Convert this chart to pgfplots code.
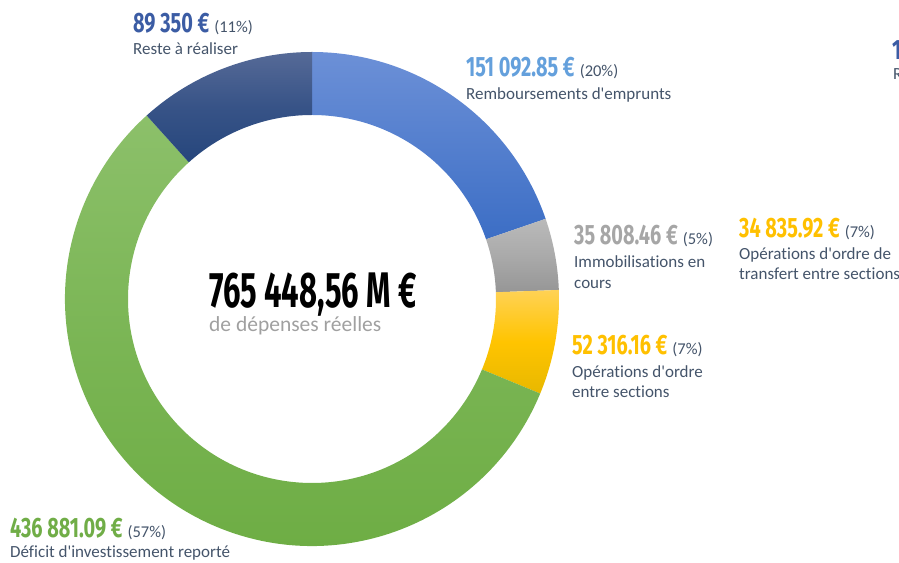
\documentclass[border=0pt]{standalone}
\usepackage{pgfplots}
\pgfplotsset{compat=1.18}
\usepackage{pgfplotstable}
\usepackage{fontspec}
\setmainfont{Carlito}[Ligatures={TeX,NoCommon}]
\newfontfamily\numfont{Fira Sans}[FakeStretch=0.71]
\newfontfamily\bignumfont{Fira Sans}[FakeStretch=0.62]

% segment colours: top / middle / bottom of each gradient
\definecolor{seg0t}{RGB}{108,144,215}
\definecolor{seg0m}{RGB}{84,127,206}
\definecolor{seg0b}{RGB}{60,110,197}
\definecolor{seg1t}{RGB}{186,186,186}
\definecolor{seg1m}{RGB}{170,170,170}
\definecolor{seg1b}{RGB}{150,150,150}
\definecolor{seg2t}{RGB}{255,210,85}
\definecolor{seg2m}{RGB}{255,196,0}
\definecolor{seg2b}{RGB}{232,184,0}
\definecolor{seg3t}{RGB}{140,192,106}
\definecolor{seg3m}{RGB}{122,181,84}
\definecolor{seg3b}{RGB}{108,172,66}
\definecolor{seg4t}{RGB}{86,106,151}
\definecolor{seg4m}{RGB}{55,83,135}
\definecolor{seg4b}{RGB}{38,70,124}

\definecolor{txtnavy}{RGB}{59,92,164}
\definecolor{txtblue}{RGB}{100,160,220}
\definecolor{txtgrey}{RGB}{166,166,166}
\definecolor{txtyellow}{RGB}{255,192,0}
\definecolor{txtgreen}{RGB}{112,173,71}
\definecolor{labelgray}{RGB}{68,84,106}
\definecolor{subgray}{RGB}{160,160,160}

\pgfplotstableread{
value
151092.85
35808.46
52316.16
436881.09
89350
}\donutdata

% cumulative angles, clockwise from 12 o'clock
\def\segtotal{0}
\pgfplotsforeachungrouped \segrow in {0,...,4}{%
  \pgfplotstablegetelem{\segrow}{value}\of{\donutdata}%
  \xdef\segtotal{\fpeval{\segtotal+\pgfplotsretval}}%
}
\def\segcum{0}
\pgfplotsforeachungrouped \segrow in {0,...,4}{%
  \pgfplotstablegetelem{\segrow}{value}\of{\donutdata}%
  \expandafter\xdef\csname segstart\segrow\endcsname{\fpeval{90-360*\segcum/\segtotal}}%
  \xdef\segcum{\fpeval{\segcum+\pgfplotsretval}}%
  \expandafter\xdef\csname segend\segrow\endcsname{\fpeval{90-360*\segcum/\segtotal}}%
}

\newcommand{\amount}[5]{%
  \node[anchor=base west,inner sep=0pt] at (#1pt,{562pt-#2pt})
    {\textcolor{#3}{\numfont\bfseries\fontsize{28}{30}\selectfont #4}\hspace{5pt}%
     \textcolor{labelgray}{\fontsize{16.5}{18}\selectfont(#5\%)}};}
\newcommand{\desc}[3]{%
  \node[anchor=base west,inner sep=0pt,text=labelgray,font=\fontsize{17}{19}\selectfont]
    at (#1pt,{562pt-#2pt}) {#3};}

\begin{document}
\begin{tikzpicture}
\useasboundingbox (0,0) rectangle (899pt,562pt);
\begin{axis}[
  at={(0,0)}, anchor=south west,
  scale only axis, width=899pt, height=562pt,
  xmin=0, xmax=899, ymin=0, ymax=562,
  hide axis, clip=false,
]
\pgfplotsinvokeforeach{0,...,4}{
  \path[top color=seg#1t, bottom color=seg#1b, middle color=seg#1m]
    ([shift={(\csname segstart#1\endcsname:247pt)}]axis cs:312,263)
    arc[start angle=\csname segstart#1\endcsname, end angle=\csname segend#1\endcsname, radius=247pt]
    -- ([shift={(\csname segend#1\endcsname:184pt)}]axis cs:312,263)
    arc[start angle=\csname segend#1\endcsname, end angle=\csname segstart#1\endcsname, radius=184pt]
    -- cycle;
}
\end{axis}

% centre
\node[anchor=base west,inner sep=0pt] at (209pt,{562pt-308pt})
  {\bignumfont\bfseries\fontsize{50}{52}\selectfont 765 448,56 M €};
\node[anchor=base west,inner sep=0pt,text=subgray] at (209pt,{562pt-332pt})
  {\fontsize{21.5}{24}\selectfont de dépenses réelles};

% labels
\amount{133}{33}{txtnavy}{89 350 €}{11}
\desc{133}{55}{Reste à réaliser}

\amount{466}{77}{txtblue}{151 092.85 €}{20}
\desc{466}{100}{Remboursements d\textquotesingle emprunts}

\amount{574}{245}{txtgrey}{35 808.46 €}{5}
\desc{574}{268}{Immobilisations en}
\desc{574}{289}{cours}

\amount{739}{238}{txtyellow}{34 835.92 €}{7}
\desc{739}{260}{Opérations d\textquotesingle ordre de}
\desc{739}{280}{transfert entre sections}

\amount{572}{355}{txtyellow}{52 316.16 €}{7}
\desc{572}{378}{Opérations d\textquotesingle ordre}
\desc{572}{398}{entre sections}

\amount{10}{537}{txtgreen}{436 881.09 €}{57}
\desc{10}{557}{Déficit d\textquotesingle investissement reporté}

% label cut off at the right edge
\node[anchor=base west,inner sep=0pt] at (892pt,{562pt-60pt})
  {\textcolor{txtnavy}{\numfont\bfseries\fontsize{28}{30}\selectfont 1}};
\desc{893}{80}{R}
\end{tikzpicture}
\end{document}
